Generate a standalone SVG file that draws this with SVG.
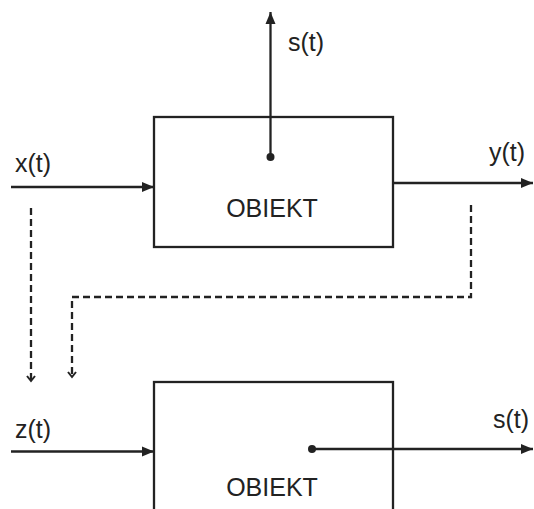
<svg xmlns="http://www.w3.org/2000/svg" width="534" height="509" viewBox="0 0 534 509">
<style>
.box{fill:none;stroke:#222;stroke-width:2.3}
.ln{fill:none;stroke:#222;stroke-width:2.3}
.dash{fill:none;stroke:#222;stroke-width:2.3;stroke-dasharray:7 4}
.lbl{font-family:"Liberation Sans",Arial,sans-serif;font-size:25px;fill:#222}
.dot{fill:#222}
</style>
<defs>
<marker id="arr" markerUnits="userSpaceOnUse" markerWidth="13" markerHeight="11" refX="12" refY="5.5" orient="auto">
<path d="M0,0.5 L12,5.5 L0,10.5 z" fill="#222"/>
</marker>
<marker id="open" markerUnits="userSpaceOnUse" markerWidth="8" markerHeight="12" refX="6" refY="5" orient="auto">
<path d="M1,1 L6,5 L1,9" fill="none" stroke="#222" stroke-width="2"/>
</marker>
</defs>
<rect width="534" height="509" fill="#fff"/>
<g id="obiekt1">
<rect class="box" x="154" y="117" width="239" height="130"/>
<text class="lbl" x="272" y="217" text-anchor="middle">OBIEKT</text>
</g>
<g id="obiekt2">
<rect class="box" x="154" y="382" width="239" height="160"/>
<text class="lbl" x="272" y="496" text-anchor="middle">OBIEKT</text>
</g>
<g id="connectors">
<line class="ln" x1="11" y1="187" x2="154" y2="187" marker-end="url(#arr)"/>
<line class="ln" x1="393" y1="183" x2="533" y2="183" marker-end="url(#arr)"/>
<line class="ln" x1="270.5" y1="157" x2="270.5" y2="12" marker-end="url(#arr)"/>
<circle class="dot" cx="270.5" cy="157" r="4"/>
<path class="dash" d="M31,208 V381" marker-end="url(#open)"/>
<path class="dash" d="M471,205 V297 H72 V377" marker-end="url(#open)"/>
<line class="ln" x1="11" y1="451.5" x2="154" y2="451.5" marker-end="url(#arr)"/>
<circle class="dot" cx="312" cy="449" r="4"/>
<line class="ln" x1="312" y1="449" x2="533" y2="449" marker-end="url(#arr)"/>
</g>
<g id="labels">
<text class="lbl" x="288" y="51">s(t)</text>
<text class="lbl" x="15" y="172">x(t)</text>
<text class="lbl" x="489" y="161">y(t)</text>
<text class="lbl" x="15" y="438">z(t)</text>
<text class="lbl" x="493" y="428">s(t)</text>
</g>
</svg>
